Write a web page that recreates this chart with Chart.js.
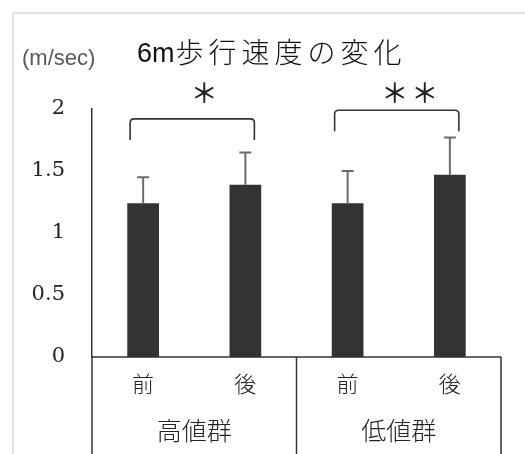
<!DOCTYPE html>
<html>
<head>
<meta charset="utf-8">
<script src="https://cdn.jsdelivr.net/npm/chart.js@4/dist/chart.umd.min.js"></script>
<style>
  html, body { margin: 0; padding: 0; background: #fff; }
  #wrap { width: 525px; height: 454px; position: relative; }
</style>
</head>
<body>
<div id="wrap"><canvas id="c" width="525" height="454"></canvas></div>
<script>
// 6m walking speed, before/after, by group
const timeLabels = ['前', '後', '前', '後'];
const groupLabels = ['高値群', '低値群'];
const speedMean = [1.24, 1.39, 1.24, 1.47];
const speedSD = [0.21, 0.26, 0.26, 0.30];
const yTicks = [0, 0.5, 1, 1.5, 2];
// significance brackets: from index, to index, bracket level, number of marks
const sigFrom = [0, 2];
const sigTo = [1, 3];
const sigLevel = [1.92, 1.99];
const sigStars = [1, 2];
const starLevel = 2.13;

const JP = '"Noto Sans CJK JP", "Noto Sans", sans-serif';

const decor = {
  id: 'decor',
  beforeDraw(chart) {
    const ctx = chart.ctx;
    ctx.save();
    ctx.strokeStyle = '#d9d9d9';
    ctx.lineWidth = 1.5;
    ctx.beginPath();
    ctx.moveTo(13, 454);
    ctx.lineTo(13, 13);
    ctx.lineTo(525, 13);
    ctx.stroke();
    // unit and title
    ctx.fillStyle = '#595959';
    ctx.font = '22px "Liberation Sans", sans-serif';
    ctx.textBaseline = 'alphabetic';
    ctx.textAlign = 'left';
    ctx.fillText('(m/sec)', 22, 65);
    ctx.fillStyle = '#111';
    ctx.font = '27px "Liberation Sans", sans-serif';
    ctx.fillText('6m', 137, 62);
    const w = ctx.measureText('6m').width;
    ctx.font = '300 28px ' + JP;
    ctx.letterSpacing = '5px';
    ctx.fillText('歩行速度の変化', 137 + w + 1, 63);
    ctx.letterSpacing = '0px';
    ctx.restore();
  },
  afterDatasetsDraw(chart) {
    const ctx = chart.ctx;
    const x = chart.scales.x, y = chart.scales.y;
    const area = chart.chartArea;
    ctx.save();
    // error bars
    ctx.strokeStyle = '#6b6b6b';
    ctx.lineWidth = 2;
    speedMean.forEach((m, i) => {
      const cx = x.getPixelForValue(i);
      const y0 = y.getPixelForValue(m);
      const y1 = y.getPixelForValue(m + speedSD[i]);
      ctx.beginPath();
      ctx.moveTo(cx, y0);
      ctx.lineTo(cx, y1);
      ctx.moveTo(cx - 6, y1);
      ctx.lineTo(cx + 6, y1);
      ctx.stroke();
    });
    // significance brackets
    sigFrom.forEach((a, k) => {
      const xa = x.getPixelForValue(a) - 13;
      const xb = x.getPixelForValue(sigTo[k]) + 9;
      const yt = y.getPixelForValue(sigLevel[k]);
      const yb = yt + 21;
      const r = 4;
      ctx.strokeStyle = '#333';
      ctx.lineWidth = 1.6;
      ctx.beginPath();
      ctx.moveTo(xa, yb);
      ctx.lineTo(xa, yt + r);
      ctx.quadraticCurveTo(xa, yt, xa + r, yt);
      ctx.lineTo(xb - r, yt);
      ctx.quadraticCurveTo(xb, yt, xb, yt + r);
      ctx.lineTo(xb, yb);
      ctx.stroke();
      ctx.fillStyle = '#222';
      ctx.font = '500 27px ' + JP;
      ctx.textAlign = 'center';
      ctx.textBaseline = 'middle';
      const mid = (xa + xb) / 2;
      const n = sigStars[k];
      const sy = y.getPixelForValue(starLevel);
      for (let s = 0; s < n; s++) {
        const sx = n === 1 ? mid + 12 : mid - 2 + s * 30;
        ctx.fillText('＊', sx, sy);
      }
    });
    // category frame below the axis
    ctx.strokeStyle = '#333';
    ctx.lineWidth = 1.5;
    const bounds = [area.left, (x.getPixelForValue(1) + x.getPixelForValue(2)) / 2, area.right];
    bounds.forEach(bx => {
      ctx.beginPath();
      ctx.moveTo(bx, area.bottom);
      ctx.lineTo(bx, 454);
      ctx.stroke();
    });
    ctx.beginPath();
    ctx.moveTo(area.left, area.bottom);
    ctx.lineTo(area.right, area.bottom);
    ctx.stroke();
    // group labels
    ctx.fillStyle = '#222';
    ctx.font = '300 25px ' + JP;
    ctx.textAlign = 'center';
    ctx.textBaseline = 'middle';
    groupLabels.forEach((g, k) => {
      ctx.fillText(g, (bounds[k] + bounds[k + 1]) / 2, 430);
    });
    ctx.restore();
  }
};

new Chart(document.getElementById('c'), {
  type: 'bar',
  data: {
    labels: timeLabels,
    datasets: [{
      data: speedMean,
      backgroundColor: '#333333',
      barPercentage: 0.62,
      categoryPercentage: 0.5
    }]
  },
  options: {
    responsive: false,
    animation: false,
    events: [],
    layout: { padding: { top: 109, right: 24, left: 0, bottom: 0 } },
    plugins: { legend: { display: false }, tooltip: { enabled: false }, title: { display: false } },
    scales: {
      x: {
        grid: { display: false, drawTicks: false },
        border: { display: false },
        ticks: {
          color: '#222',
          font: { family: 'Noto Sans CJK JP', size: 22, weight: '300' },
          padding: 13,
          maxRotation: 0
        },
        afterFit(s) { s.height = 97; }
      },
      y: {
        min: 0, max: 2,
        afterBuildTicks(s) { s.ticks = yTicks.map(v => ({ value: v })); },
        grid: { display: false, drawTicks: false },
        border: { display: true, color: '#333', width: 1.5 },
        ticks: {
          color: '#222',
          font: { family: 'DejaVu Serif', size: 21 },
          padding: 27,
          callback: v => String(v)
        },
        afterFit(s) { s.width = 92; }
      }
    }
  },
  plugins: [decor]
});
</script>
</body>
</html>
